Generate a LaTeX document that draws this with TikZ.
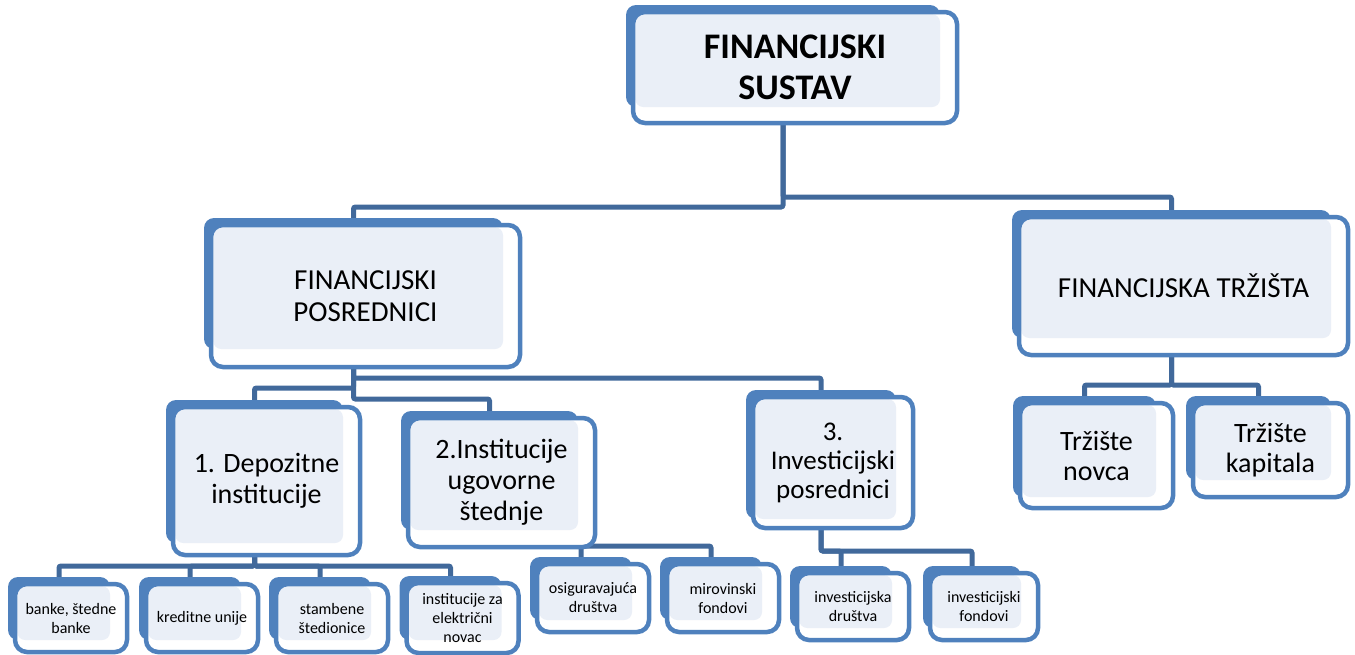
\documentclass[tikz,border=0pt]{standalone}
\usepackage{fontspec}
\setmainfont{Carlito}
\usetikzlibrary{backgrounds}
\definecolor{boxblue}{HTML}{4F81BD}
\definecolor{linkblue}{HTML}{41699B}
\definecolor{paleblue}{HTML}{EAEFF7}
\tikzset{
  front/.style={draw=boxblue, line width=4.5, rounded corners=12, inner sep=0, outer sep=0, align=center},
  conn/.style={draw=linkblue, line width=5, rounded corners=2},
  lvltwo/.style={font=\fontsize{29}{32}\selectfont},
  lvlthree/.style={font=\fontsize{28}{31}\selectfont},
  lvlfour/.style={font=\fontsize{16}{19}\selectfont, minimum width=112, minimum height=68},
}
\begin{document}
\begin{tikzpicture}[x=1pt,y=1pt]
\useasboundingbox (0,0) rectangle (1355,-654);
%\draw[step=50,gray,very thin] (0,0) grid (1355,-654);

% top
\node[front, minimum width=324, minimum height=111, font=\fontsize{36}{41}\selectfont\bfseries] (sustav) at (795,-67.5) {FINANCIJSKI\\SUSTAV};

% second level
\node[front, lvltwo, minimum width=309, minimum height=142] (posred) at (365.5,-296) {FINANCIJSKI\\POSREDNICI};
\node[front, lvltwo, minimum width=329, minimum height=138] (trzista) at (1183.5,-286) {FINANCIJSKA TRŽIŠTA};

% third level
\node[front, lvlthree, minimum width=187, minimum height=148] (depoz) at (266.5,-481) {1. Depozitne\\institucije};
\node[front, lvlthree, minimum width=187, minimum height=129] (ugovor) at (501.5,-482.5) {2.Institucije\\ugovorne\\štednje};
\node[front, lvlthree, font=\fontsize{27}{29}\selectfont, minimum width=160, minimum height=131] (invpos) at (833,-462.5) {3.\\Investicijski\\posrednici};
\node[front, lvlthree, font=\fontsize{28}{30}\selectfont, minimum width=153, minimum height=105] (novca) at (1096.5,-455.5) {Tržište\\novca};
\node[front, lvlthree, font=\fontsize{28}{30}\selectfont, minimum width=155, minimum height=94] (kapital) at (1270.5,-450) {Tržište\\kapitala};

% fourth level
\node[front, lvlfour] (banke) at (71,-618) {banke, štedne\\banke};
\node[front, lvlfour] (kredit) at (202,-618) {kreditne unije};
\node[front, lvlfour] (stamb) at (332,-618) {stambene\\štedionice};
\node[front, lvlfour, minimum height=70] (eleknov) at (462.5,-618) {institucije za\\električni\\novac};
\node[front, lvlfour] (osig) at (593,-598) {osiguravajuća\\društva};
\node[front, lvlfour] (mirov) at (723,-598) {mirovinski\\fondovi};
\node[front, lvlfour, minimum height=67] (invdr) at (853,-606.5) {investicijska\\društva};
\node[front, lvlfour, minimum width=108, minimum height=67] (invfond) at (984,-606.5) {investicijski\\fondovi};

\begin{pgfonlayer}{background}
\foreach \nm in {sustav,posred,trzista,depoz,ugovor,invpos,novca,kapital,banke,kredit,stamb,eleknov,osig,mirov,invdr,invfond}{
  \coordinate (\nm-c) at ([xshift=-12]\nm.center);
  \coordinate (\nm-t) at ([shift={(-12,7)}]\nm.north);
}

% connectors
\draw[conn] (sustav-c) |- (posred-t |- 0,-207) -- (posred-t);
\draw[conn] (sustav-c) |- (trzista-t |- 0,-197) -- (trzista-t);
\draw[conn] (posred-c) |- (invpos-t |- 0,-378) -- (invpos-t);
\draw[conn] (posred-c) |- (depoz-t |- 0,-388) -- (depoz-t);
\draw[conn] (posred-c) |- (ugovor-t |- 0,-399) -- (ugovor-t);
\draw[conn] (trzista-c) |- (novca-t |- 0,-385) -- (novca-t);
\draw[conn] (trzista-c) |- (kapital-t |- 0,-385) -- (kapital-t);
\foreach \ch in {banke,kredit,stamb,eleknov}
  \draw[conn] (depoz-c) |- (\ch-t |- 0,-566) -- (\ch-t);
\foreach \ch in {osig,mirov}
  \draw[conn] (ugovor-c) |- (\ch-t |- 0,-546) -- (\ch-t);
\foreach \ch in {invdr,invfond}
  \draw[conn] (invpos-c) |- (\ch-t |- 0,-551) -- (\ch-t);

% back plate, white face, pale inner
\foreach \nm/\dy in {sustav/16,posred/18,trzista/17,depoz/12,ugovor/17,invpos/9,novca/11,kapital/17,banke/12,kredit/12,stamb/12,eleknov/13,osig/12,mirov/12,invdr/12,invfond/12}{
  \fill[boxblue, rounded corners=10] ([shift={(-7,7)}]\nm.north west) rectangle ([shift={(-17,\dy)}]\nm.south east);
  \fill[white, rounded corners=12] (\nm.north west) rectangle (\nm.south east);
  \fill[paleblue, rounded corners=8] ([shift={(2.25,-2.25)}]\nm.north west) rectangle ([shift={(-17,\dy)}]\nm.south east);
}
\end{pgfonlayer}
\end{tikzpicture}
\end{document}
